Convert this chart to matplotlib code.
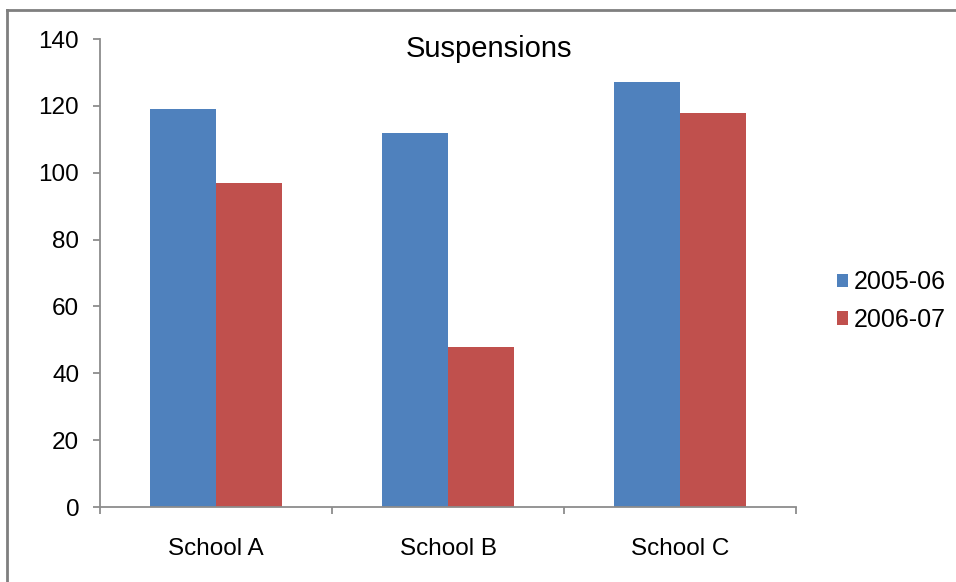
import matplotlib.pyplot as plt
import numpy as np
from matplotlib.lines import Line2D

plt.rcParams['font.family'] = ['Liberation Sans', 'DejaVu Sans']

# data
schools = ["School A", "School B", "School C"]
series_names = ["2005-06", "2006-07"]
suspensions_0506 = [119, 112, 127]
suspensions_0607 = [97, 48, 118]
colors = ["#4F81BD", "#C0504D"]
y_ticks = [0, 20, 40, 60, 80, 100, 120, 140]

W, H = 956, 582
fig = plt.figure(figsize=(W / 100, H / 100), dpi=100)
ax = fig.add_axes([100 / W, 1 - 507 / H, 696 / W, 468 / H])

x = np.arange(len(schools))
bw = 0.285
ax.bar(x - bw / 2, suspensions_0506, bw, color=colors[0], label=series_names[0])
ax.bar(x + bw / 2, suspensions_0607, bw, color=colors[1], label=series_names[1])

ax.set_xlim(-0.5, len(schools) - 0.5)
ax.set_ylim(0, 140)
ax.set_yticks(y_ticks)
ax.set_xticks(x)
ax.set_xticklabels(schools)
# category boundary ticks
ax.set_xticks(np.arange(len(schools) + 1) - 0.5, minor=True)

for s in ["top", "right"]:
    ax.spines[s].set_visible(False)
for s in ["left", "bottom"]:
    ax.spines[s].set_color("#8c8c8c")
    ax.spines[s].set_linewidth(1.3)

ax.tick_params(axis="y", length=5, width=1.3, color="#8c8c8c", labelsize=17.5, pad=10)
ax.tick_params(axis="x", which="major", length=0, labelsize=17.5, pad=22)
ax.tick_params(axis="x", which="minor", length=5, width=1.3, color="#8c8c8c")

fig.text(489 / W, 1 - 57 / H, "Suspensions", ha="center", va="baseline", fontsize=21)

leg = fig.legend(loc="center left", bbox_to_anchor=(819 / W, 1 - 301 / H),
                 frameon=False, fontsize=18, handlelength=0.45, handleheight=0.45,
                 handletextpad=0.25, labelspacing=0.55, borderpad=0.2)

# chart-area frame (only top and left edges visible in the reference)
fig.add_artist(Line2D([7 / W, 1], [1 - 10 / H, 1 - 10 / H], color="#7f7f7f", lw=2))
fig.add_artist(Line2D([7 / W, 7 / W], [0, 1 - 10 / H], color="#7f7f7f", lw=2))

fig.savefig("out.png", dpi=100)
